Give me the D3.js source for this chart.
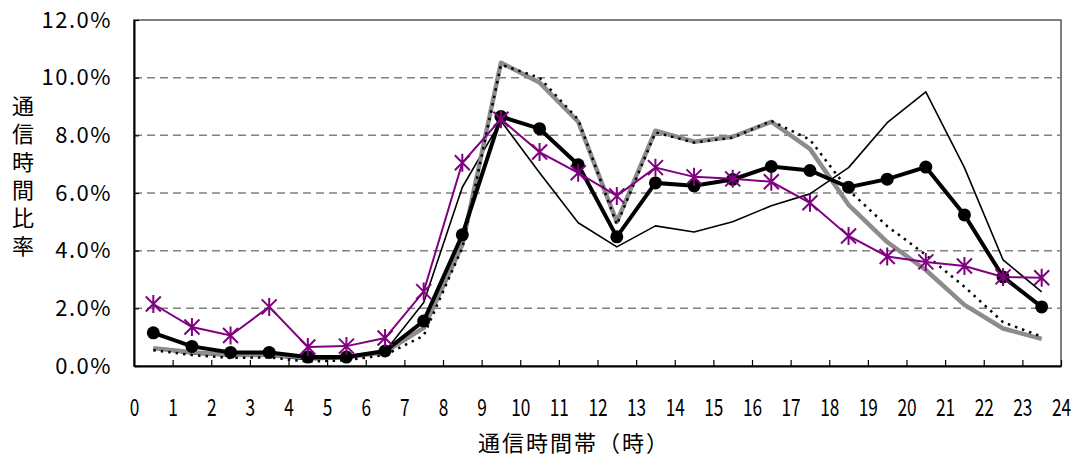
<!DOCTYPE html>
<html>
<head>
<meta charset="utf-8">
<script src="https://cdn.jsdelivr.net/npm/d3@7"></script>
<style>
  body { margin: 0; background: #fff; }
  text { font-family: "Noto Sans CJK JP", sans-serif; fill: #000; }
</style>
</head>
<body>
<div id="chart"></div>
<script>
// hour slots 0..23, points sit at the middle of each slot
var hours = [0,1,2,3,4,5,6,7,8,9,10,11,12,13,14,15,16,17,18,19,20,21,22,23];
var xTicks = [0,1,2,3,4,5,6,7,8,9,10,11,12,13,14,15,16,17,18,19,20,21,22,23,24];
var yTicks = [0,2,4,6,8,10,12];

// values in %
var thinLine   = [0.6,0.42,0.35,0.35,0.22,0.25,0.5,2.2,6.2,8.5,6.7,4.97,4.13,4.86,4.65,5.0,5.56,5.97,6.88,8.44,9.51,6.88,3.68,2.57];
var grayLine   = [0.62,0.48,0.38,0.38,0.3,0.3,0.48,1.32,4.2,10.52,9.83,8.47,5.0,8.16,7.78,7.95,8.47,7.53,5.59,4.3,3.33,2.12,1.3,0.94];
var dottedLine = [0.55,0.38,0.28,0.3,0.15,0.2,0.38,1.05,4.1,10.45,10.0,8.55,4.9,8.1,7.75,7.92,8.5,7.85,6.1,4.85,3.85,2.75,1.52,1.02];
var circleLine = [1.15,0.68,0.47,0.47,0.31,0.31,0.52,1.56,4.55,8.65,8.23,6.98,4.48,6.35,6.25,6.47,6.92,6.78,6.2,6.48,6.9,5.24,3.09,2.05];
var starLine   = [2.15,1.35,1.06,2.05,0.66,0.69,0.97,2.58,7.05,8.56,7.42,6.7,5.9,6.88,6.56,6.49,6.39,5.66,4.51,3.8,3.61,3.47,3.09,3.06];

var width = 1078, height = 457;
var plotL = 134, plotR = 1061, plotT = 20, plotB = 366;

var svg = d3.select("#chart").append("svg")
  .attr("width", width)
  .attr("height", height);

var x = d3.scaleLinear().domain([0, 24]).range([plotL, plotR]);
var y = d3.scaleLinear().domain([0, 12]).range([plotB, plotT]);

// plot frame
svg.append("rect")
  .attr("x", plotL).attr("y", plotT)
  .attr("width", plotR - plotL).attr("height", plotB - plotT)
  .attr("fill", "none")
  .attr("stroke", "#555")
  .attr("stroke-width", 1.5);

// gridlines
svg.append("g").selectAll("line")
  .data(yTicks.filter(function(d) { return d > 0; }))
  .enter().append("line")
  .attr("x1", plotL).attr("x2", plotR)
  .attr("y1", function(d) { return y(d); })
  .attr("y2", function(d) { return y(d); })
  .attr("stroke", "#808080")
  .attr("stroke-width", 1.5)
  .attr("stroke-dasharray", "8,5");

// x axis, ticks pointing inward
var xAxis = svg.append("g")
  .attr("transform", "translate(0," + plotB + ")")
  .call(d3.axisBottom(x).tickValues(xTicks).tickSizeInner(-6).tickSizeOuter(0));
xAxis.select(".domain").attr("stroke", "#000").attr("stroke-width", 2);
xAxis.selectAll(".tick line").attr("stroke", "#000").attr("stroke-width", 1.2);
xAxis.selectAll("text")
  .style("font-size", "24px")
  .attr("y", 33)
  .attr("transform", "scale(0.72,1)");

// y axis
var yAxis = svg.append("g")
  .attr("transform", "translate(" + plotL + ",0)")
  .call(d3.axisLeft(y).tickValues(yTicks).tickSizeInner(-5).tickSizeOuter(0).tickPadding(22)
    .tickFormat(function(d) { return d.toFixed(1) + "%"; }));
yAxis.select(".domain").attr("stroke", "#000").attr("stroke-width", 2);
yAxis.selectAll(".tick line").attr("stroke", "#000").attr("stroke-width", 1.2);
yAxis.selectAll("text")
  .style("font-size", "22px")
  .style("letter-spacing", "1.5px");

// axis titles
svg.append("text")
  .attr("x", 23).attr("y", 95)
  .style("writing-mode", "vertical-rl")
  .style("font-size", "22px")
  .style("letter-spacing", "6px")
  .text("通信時間比率");

svg.append("text")
  .attr("x", 574).attr("y", 441)
  .attr("text-anchor", "middle")
  .attr("dominant-baseline", "central")
  .style("font-size", "22px")
  .style("letter-spacing", "2px")
  .text("通信時間帯（時）");

var line = d3.line()
  .x(function(d, i) { return x(hours[i] + 0.5); })
  .y(function(d) { return y(d); });

var lines = svg.append("g").attr("fill", "none").attr("stroke-linejoin", "round");

lines.append("path").datum(thinLine)
  .attr("d", line).attr("stroke", "#000").attr("stroke-width", 1.6);

lines.append("path").datum(grayLine)
  .attr("d", line).attr("stroke", "#8c8c8c").attr("stroke-width", 4.5);

lines.append("path").datum(dottedLine)
  .attr("d", line).attr("stroke", "#000").attr("stroke-width", 2.5)
  .attr("stroke-dasharray", "2.5,5");

var circles = svg.append("g");
circles.append("path").datum(circleLine)
  .attr("d", line).attr("fill", "none").attr("stroke", "#000").attr("stroke-width", 4);
circles.selectAll("circle")
  .data(circleLine)
  .enter().append("circle")
  .attr("cx", function(d, i) { return x(hours[i] + 0.5); })
  .attr("cy", function(d) { return y(d); })
  .attr("r", 6.5)
  .attr("fill", "#000");

var stars = svg.append("g");
stars.append("path").datum(starLine)
  .attr("d", line).attr("fill", "none").attr("stroke", "#800080").attr("stroke-width", 2);

// asterisk markers
var s = 7.5;
stars.selectAll(".star")
  .data(starLine)
  .enter().append("path")
  .attr("class", "star")
  .attr("transform", function(d, i) { return "translate(" + x(hours[i] + 0.5) + "," + y(d) + ")"; })
  .attr("d", "M" + (-s) + "," + (-s) + "L" + s + "," + s +
             "M" + (-s) + "," + s + "L" + s + "," + (-s) +
             "M0," + (-s * 1.2) + "L0," + (s * 1.2))
  .attr("stroke", "#800080")
  .attr("stroke-width", 2)
  .attr("fill", "none");
</script>
</body>
</html>
